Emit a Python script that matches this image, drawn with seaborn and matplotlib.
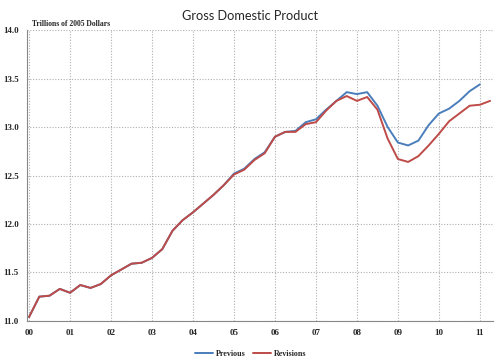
import pandas as pd
import seaborn as sns
import matplotlib.pyplot as plt
import numpy as np

# Quarterly real GDP, trillions of 2005 dollars, 2000Q1 onward
previous = [11.04, 11.25, 11.26, 11.33,
            11.29, 11.37, 11.34, 11.38,
            11.47, 11.53, 11.59, 11.60,
            11.65, 11.74, 11.93, 12.04,
            12.12, 12.21, 12.30, 12.40,
            12.52, 12.57, 12.67, 12.74,
            12.90, 12.95, 12.96, 13.05,
            13.08, 13.18, 13.27, 13.36,
            13.34, 13.36, 13.22, 13.00,
            12.84, 12.81, 12.86, 13.02,
            13.14, 13.19, 13.27, 13.37,
            13.44]
revisions = [11.04, 11.25, 11.26, 11.33,
             11.29, 11.37, 11.34, 11.38,
             11.47, 11.53, 11.59, 11.60,
             11.65, 11.74, 11.93, 12.04,
             12.12, 12.21, 12.30, 12.40,
             12.51, 12.56, 12.66, 12.73,
             12.90, 12.95, 12.95, 13.03,
             13.05, 13.17, 13.27, 13.32,
             13.27, 13.31, 13.18, 12.88,
             12.67, 12.64, 12.70, 12.81,
             12.93, 13.06, 13.14, 13.22,
             13.23, 13.27]
year_labels = ['00', '01', '02', '03', '04', '05', '06', '07', '08', '09', '10', '11']
y_ticks = [11.0, 11.5, 12.0, 12.5, 13.0, 13.5, 14.0]

df = pd.concat([
    pd.DataFrame({'t': np.arange(len(previous)) / 4, 'gdp': previous, 'series': 'Previous'}),
    pd.DataFrame({'t': np.arange(len(revisions)) / 4, 'gdp': revisions, 'series': 'Revisions'}),
])

sns.set_style('white')
fig = plt.figure(figsize=(5, 3.63), dpi=100)
ax = fig.add_axes([0.054, 0.116, 0.932, 0.801])

sns.lineplot(data=df, x='t', y='gdp', hue='series',
             palette={'Previous': '#4a7ebb', 'Revisions': '#be4b48'},
             linewidth=1.4, ax=ax)

ax.set_xlim(-0.05, 11.32)
ax.set_ylim(11.0, 14.0)
ax.set_xticks(range(len(year_labels)))
ax.set_xticklabels(year_labels)
ax.set_yticks(y_ticks)
ax.set_yticklabels([f'{v:.1f}' for v in y_ticks])
ax.grid(True, color='#b0b0b0', linestyle=(0, (1, 1.5)), linewidth=0.8)
for s in ['top', 'right']:
    ax.spines[s].set_visible(False)
for s in ['left', 'bottom']:
    ax.spines[s].set_color('#888888')
    ax.spines[s].set_linewidth(0.8)
ax.tick_params(axis='both', length=0, pad=6, labelsize=6.5)
for lab in ax.get_xticklabels() + ax.get_yticklabels():
    lab.set_family('Liberation Serif')
    lab.set_fontweight('bold')
ax.set_xlabel('')
ax.set_ylabel('')

fig.text(0.5, 0.955, 'Gross Domestic Product', ha='center', va='center',
         fontsize=9.2, family='Lato')
ax.text(0.01, 1.008, 'Trillions of 2005 Dollars', transform=ax.transAxes,
        ha='left', va='bottom', fontsize=5.5, family='Liberation Serif', fontweight='bold')

leg = ax.legend(loc='upper center', bbox_to_anchor=(0.48, -0.075), ncol=2, frameon=False,
                fontsize=5.8, handlelength=2.2, handletextpad=0.3, columnspacing=1.0)
for t in leg.get_texts():
    t.set_family('Liberation Serif')
    t.set_fontweight('bold')

fig.savefig('out.png', dpi=100)
